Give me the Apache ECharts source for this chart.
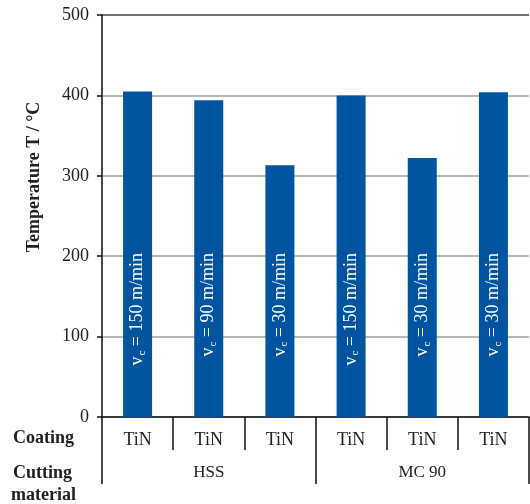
<!DOCTYPE html>
<html>
<head>
<meta charset="utf-8">
<script src="https://cdn.jsdelivr.net/npm/echarts@6/dist/echarts.min.js"></script>
<style>
  html, body { margin: 0; padding: 0; background: #fff; }
  #chart { width: 530px; height: 504px; }
</style>
</head>
<body>
<div id="chart"></div>
<script>
// Tool temperature per cutting-tool configuration
const coatings = ['TiN', 'TiN', 'TiN', 'TiN', 'TiN', 'TiN'];
const materials = ['HSS', 'MC 90'];
const temperatures = [405, 394, 313, 400, 322, 404];
const cuttingSpeeds = [150, 90, 30, 150, 30, 30];
const yTicks = [0, 100, 200, 300, 400, 500];

const serif = '"Liberation Serif", "Times New Roman", serif';
const chart = echarts.init(document.getElementById('chart'));

chart.setOption({
  animation: false,
  grid: { left: 102, right: 1, top: 15, bottom: 87, containLabel: false },
  xAxis: [
    {
      type: 'category',
      data: coatings,
      position: 'bottom',
      boundaryGap: true,
      axisLine: { show: true, lineStyle: { color: '#111', width: 1.5 } },
      axisTick: { show: true, inside: false, length: 33, interval: 0, alignWithLabel: false,
                  lineStyle: { color: '#111', width: 1.5 } },
      axisLabel: { interval: 0, margin: 14, fontFamily: serif, fontSize: 18, color: '#222' },
      splitLine: { show: false }
    },
    {
      type: 'category',
      data: materials,
      position: 'bottom',
      offset: 33,
      boundaryGap: true,
      axisLine: { show: false },
      axisTick: { show: true, inside: false, length: 34, interval: 0, alignWithLabel: false,
                  lineStyle: { color: '#111', width: 1.5 } },
      axisLabel: { interval: 0, margin: 14, fontFamily: serif, fontSize: 17, color: '#222' },
      splitLine: { show: false }
    }
  ],
  yAxis: {
    type: 'value',
    min: yTicks[0],
    max: yTicks[yTicks.length - 1],
    interval: 100,
    name: 'Temperature T / °C',
    nameLocation: 'middle',
    nameGap: 59,
    nameRotate: 90,
    nameTextStyle: { fontFamily: serif, fontSize: 18, fontWeight: 'bold', color: '#222',
                     padding: [0, 0, 0, 78] },
    axisLine: { show: true, lineStyle: { color: '#111', width: 1.5 } },
    axisTick: { show: true, inside: false, length: 5, lineStyle: { color: '#111', width: 1.5 } },
    axisLabel: { margin: 13, fontFamily: serif, fontSize: 18, color: '#222' },
    splitLine: { show: true,
                 lineStyle: { color: ['#a0a0a0', '#a0a0a0', '#a0a0a0', '#a0a0a0', '#a0a0a0', '#444'], width: 1.5 } }
  },
  series: [{
    type: 'bar',
    data: temperatures,
    barWidth: 29,
    itemStyle: { color: '#0054a0' },
    label: {
      show: true,
      position: 'insideBottom',
      distance: 164,
      rotate: 90,
      align: 'right',
      verticalAlign: 'middle',
      formatter: p => '{v|v}{sub|c}{t| = ' + cuttingSpeeds[p.dataIndex] + ' m/min}',
      rich: {
        v: { fontFamily: serif, fontSize: 18, color: '#fff' },
        sub: { fontFamily: serif, fontSize: 11, color: '#fff', padding: [9, 0, 0, 1] },
        t: { fontFamily: serif, fontSize: 18, color: '#fff' }
      }
    }
  }],
  graphic: [
    { type: 'text',
      style: { x: 13, y: 438, verticalAlign: 'middle', text: 'Coating',
               font: 'bold 18px ' + serif, fill: '#222' } },
    { type: 'text',
      style: { x: 13, y: 473, verticalAlign: 'middle', text: 'Cutting',
               font: 'bold 18px ' + serif, fill: '#222' } },
    { type: 'text',
      style: { x: 11, y: 495, verticalAlign: 'middle', text: 'material',
               font: 'bold 18px ' + serif, fill: '#222' } }
  ]
});
</script>
</body>
</html>
